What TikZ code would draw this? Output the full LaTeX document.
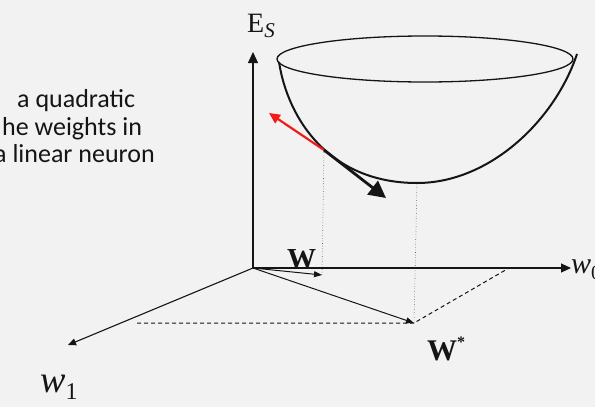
\documentclass[tikz,border=0pt]{standalone}
\usepackage{fontspec}
\setmainfont{Liberation Serif}
\newfontfamily\calib{Carlito}
\newcommand\notesize{\fontsize{26pt}{30pt}\selectfont}
\usepackage{xcolor}
\definecolor{paper}{HTML}{F2F2F2}
\definecolor{ink}{HTML}{151515}
\definecolor{grad}{HTML}{F51A1A}
\usetikzlibrary{arrows.meta}
\tikzset{
  >={Triangle[length=10pt, width=9pt]},
  axis/.style={->, line width=1.1pt, color=ink},
  vec/.style={-{Triangle[length=8pt, width=6pt]}, line width=1pt, color=ink},
  proj/.style={dash pattern=on 4pt off 3pt, line width=1pt, color=ink},
  drop/.style={dotted, line width=0.6pt, color=ink!70},
  lbl/.style={inner sep=0pt, anchor=base west, text=ink},
  note/.style={lbl, font=\calib\notesize},
}

\begin{document}
\begin{tikzpicture}[x=1pt, y=-1pt,
    bowl/.style={line width=2pt, color=ink},
    rim/.style={line width=1.3pt, color=ink}]

  \useasboundingbox[fill=paper] (0,0) rectangle (595,407);
  \clip (0,0) rectangle (595,407);

  % Text at the left edge, cut by the slide.
  \node[note] (t1) at (17,107) {a quadratic};
  \node[note] (t2) at (2,135) {he weights in};
  \node[note] (t3) at (-6,162) {a linear neuron};

  % Axes.
  \coordinate (O) at (253,268);
  \coordinate (Etop) at (253,52);
  \coordinate (w0end) at (571,268);
  \coordinate (w1end) at (68,345);
  \draw[axis, -{Triangle[length=11pt, width=10pt]}] (O) -- (Etop);
  \draw[axis] (O) -- (w0end);
  \draw[axis, -{Triangle[length=8pt, width=7pt]}] (O) -- (w1end);
  \node[lbl, font=\fontsize{28}{28}\selectfont] (Es) at (247,32)
    {E\raisebox{-5pt}{\fontsize{21}{21}\selectfont\itshape S}};
  \node[lbl, font=\fontsize{30}{30}\selectfont\itshape] (w0) at (571,273)
    {w\raisebox{-6pt}{\fontsize{20}{20}\selectfont\upshape 0}};
  \node[lbl, font=\fontsize{38}{38}\selectfont\itshape] (w1) at (40,392)
    {w\raisebox{-7pt}{\fontsize{24}{24}\selectfont\upshape 1}};

  % Weight vectors and their projections.
  \coordinate (W) at (322,275);
  \coordinate (Wst) at (414,323);
  \coordinate (Wst1) at (137,323);
  \coordinate (Wst0) at (509,268);
  \draw[vec] (O) -- (W);
  \draw[vec] (O) -- (Wst);
  \draw[proj] (Wst1) -- (Wst) -- (Wst0);
  \node[lbl, font=\fontsize{29}{29}\selectfont\bfseries] (Wlbl) at (287,268) {W};
  \node[lbl, font=\fontsize{30}{30}\selectfont\bfseries] (Wstlbl) at (427,360)
    {W\raisebox{13pt}{\fontsize{16}{16}\selectfont *}};

  % The error bowl.
  \draw[rim] (425,59) ellipse [x radius=148, y radius=23];
  \coordinate (P) at (324,150);
  \coordinate (B) at (417,183);
  \draw[bowl] (279,62) .. controls (288,120) and (330,183) .. (B)
    .. controls (490,183) and (555,120) .. (577,54);
  \draw[drop] (W) -- (P);
  \draw[drop] (Wst) -- (B);

  % Gradient and the step down it.
  \coordinate (up) at (269,113);
  \coordinate (down) at (386,198);
  \draw[-{Triangle[length=11pt, width=10pt]}, line width=2.2pt, color=grad] (P) -- (up);
  \draw[-{Triangle[length=17pt, width=17pt]}, line width=2.8pt, color=ink] (P) -- (down);
\end{tikzpicture}
\end{document}
